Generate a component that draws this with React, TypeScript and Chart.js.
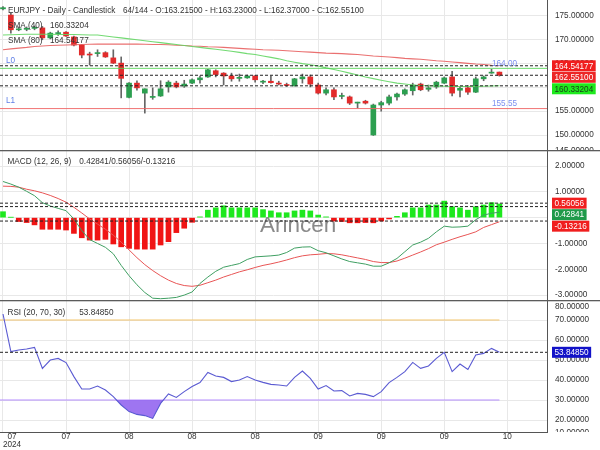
import React, { useEffect, useRef } from 'react';
import { Chart, registerables } from 'chart.js';

Chart.register(...registerables);

// ---------------- data ----------------
const xTickIndex = [0, 8, 16, 24, 32, 40, 48, 56, 64];
const xTickLabels = ['07', '07', '08', '08', '08', '09', '09', '09', '10'];
const yearLabel = '2024';
const totalBars = 144;

const open = [176.5, 175.2, 172.1, 172.2, 172.4, 172.5, 170.4, 171.3, 171.6, 170.6, 168.9, 166.9, 167.1, 167.3, 166.2, 165.1, 157.9, 160.9, 158.8, 157.9, 158.2, 160.1, 160.9, 160.3, 160.9, 161.6, 162.2, 163.5, 163.0, 162.4, 161.9, 162.0, 162.4, 161.1, 161.3, 160.9, 160.6, 160.3, 161.8, 162.2, 160.5, 158.8, 159.5, 158.1, 158.0, 156.7, 157.1, 150.0, 156.3, 156.7, 158.0, 158.6, 159.3, 160.7, 159.6, 160.1, 160.9, 162.2, 159.4, 159.9, 159.0, 161.8, 163.0, 163.215];
const high = [177.0, 175.6, 172.7, 172.7, 172.9, 172.8, 171.6, 171.9, 171.7, 170.8, 169.0, 167.4, 167.9, 167.5, 167.9, 166.4, 161.0, 161.4, 159.7, 159.9, 161.4, 161.4, 161.3, 161.5, 161.8, 162.4, 163.8, 163.7, 163.1, 163.0, 162.8, 162.6, 162.5, 161.5, 162.4, 161.3, 160.9, 161.9, 162.8, 162.6, 160.9, 159.9, 159.9, 158.8, 158.2, 156.9, 157.3, 156.5, 157.1, 158.4, 158.8, 159.7, 160.9, 160.9, 160.5, 161.3, 162.2, 163.4, 160.1, 160.4, 162.2, 162.4, 163.8, 163.23];
const low = [176.3, 171.4, 171.9, 171.9, 172.1, 170.0, 170.2, 170.9, 170.7, 168.7, 166.2, 164.7, 166.5, 166.3, 165.0, 157.8, 157.8, 159.4, 154.6, 157.5, 158.1, 159.0, 159.9, 160.0, 160.8, 160.9, 162.1, 162.2, 160.5, 161.3, 161.3, 161.9, 161.1, 160.8, 160.9, 160.5, 160.2, 160.3, 160.9, 160.1, 158.6, 158.4, 157.4, 157.6, 156.4, 155.7, 156.5, 149.9, 155.0, 156.3, 157.3, 158.3, 158.4, 159.3, 159.2, 159.8, 160.8, 158.2, 158.0, 158.5, 158.9, 161.4, 162.96, 162.37];
const close = [176.75, 172.1, 172.2, 172.3, 172.6, 170.4, 171.4, 171.45, 170.8, 168.9, 166.8, 166.8, 167.3, 166.4, 165.1, 161.9, 160.9, 159.9, 159.7, 158.1, 159.7, 161.1, 160.1, 160.7, 161.6, 162.0, 163.7, 162.7, 162.4, 161.8, 162.1, 162.4, 161.6, 161.2, 161.0, 160.7, 160.4, 161.8, 162.2, 160.7, 158.8, 159.5, 158.0, 158.3, 156.7, 156.9, 156.7, 156.3, 156.8, 158.0, 158.6, 159.5, 160.5, 159.5, 159.9, 161.1, 162.0, 158.8, 159.8, 159.0, 161.8, 162.2, 163.1, 162.551];

const sma40 = [171.0, 171.05, 171.1, 171.15, 171.15, 171.15, 171.15, 171.1, 171.1, 171.1, 171.05, 171.0, 171.0, 170.8, 170.6, 170.4, 170.2, 170.0, 169.8, 169.6, 169.4, 169.2, 169.0, 168.8, 168.6, 168.4, 168.2, 168.0, 167.8, 167.6, 167.35, 167.1, 166.9, 166.6, 166.3, 166.0, 165.6, 165.3, 165.0, 164.75, 164.5, 164.1, 163.75, 163.4, 163.0, 162.6, 162.2, 161.85, 161.5, 161.2, 160.9, 160.7, 160.5, 160.4, 160.35, 160.3, 160.25, 160.2, 160.2, 160.2, 160.2, 160.25, 160.3, 160.33204];
const sma80 = [167.9, 168.1, 168.25, 168.4, 168.6, 168.7, 168.8, 168.85, 168.9, 168.95, 169.0, 169.05, 169.1, 169.1, 169.1, 169.1, 169.1, 169.1, 169.05, 169.0, 169.0, 168.95, 168.85, 168.8, 168.7, 168.65, 168.55, 168.5, 168.4, 168.3, 168.2, 168.1, 168.0, 167.9, 167.85, 167.8, 167.7, 167.6, 167.5, 167.4, 167.3, 167.2, 167.15, 167.1, 167.0, 166.9, 166.75, 166.6, 166.5, 166.4, 166.25, 166.1, 166.0, 165.9, 165.75, 165.6, 165.5, 165.35, 165.2, 165.05, 164.9, 164.8, 164.65, 164.54177];

const macdLine = [1.40, 1.30, 1.18, 1.02, 0.85, 0.58, 0.45, 0.36, 0.27, -0.05, -0.50, -0.85, -1.00, -1.15, -1.40, -1.85, -2.25, -2.60, -2.90, -3.12, -3.14, -3.12, -3.09, -3.00, -2.88, -2.55, -2.30, -2.08, -1.92, -1.85, -1.78, -1.62, -1.52, -1.50, -1.48, -1.45, -1.35, -1.18, -1.14, -1.13, -1.28, -1.36, -1.48, -1.60, -1.70, -1.75, -1.80, -1.88, -1.88, -1.75, -1.58, -1.32, -1.06, -0.95, -0.80, -0.55, -0.33, -0.37, -0.36, -0.33, -0.08, 0.10, 0.17, 0.21];
const signalLine = [1.22, 1.21, 1.18, 1.10, 1.04, 0.96, 0.86, 0.74, 0.60, 0.40, 0.18, -0.05, -0.25, -0.45, -0.68, -0.95, -1.25, -1.55, -1.82, -2.05, -2.25, -2.42, -2.55, -2.63, -2.66, -2.62, -2.52, -2.42, -2.30, -2.20, -2.10, -2.02, -1.93, -1.85, -1.79, -1.72, -1.64, -1.55, -1.48, -1.44, -1.42, -1.39, -1.40, -1.44, -1.50, -1.56, -1.62, -1.70, -1.74, -1.74, -1.68, -1.57, -1.45, -1.33, -1.20, -1.05, -0.95, -0.84, -0.74, -0.65, -0.55, -0.38, -0.27, -0.16];
const histogram = [0.23, 0.01, -0.15, -0.19, -0.28, -0.45, -0.45, -0.45, -0.48, -0.61, -0.78, -0.87, -0.87, -0.84, -1.02, -1.13, -1.19, -1.22, -1.22, -1.22, -1.06, -0.93, -0.58, -0.41, -0.18, 0.03, 0.29, 0.38, 0.46, 0.38, 0.38, 0.38, 0.38, 0.31, 0.26, 0.19, 0.19, 0.26, 0.29, 0.26, 0.10, 0.03, -0.13, -0.15, -0.20, -0.20, -0.19, -0.20, -0.13, -0.05, 0.05, 0.19, 0.38, 0.38, 0.49, 0.49, 0.64, 0.42, 0.38, 0.29, 0.42, 0.49, 0.58, 0.53];

const rsi = [73.0, 54.2, 55.0, 55.5, 56.3, 45.8, 50.0, 50.8, 48.7, 41.7, 35.5, 35.5, 37.0, 35.0, 31.7, 27.5, 24.2, 22.8, 22.2, 20.8, 28.3, 33.0, 31.3, 34.2, 36.7, 38.7, 43.8, 42.0, 41.3, 39.2, 40.0, 41.7, 40.0, 38.8, 37.8, 37.5, 37.0, 41.3, 44.5, 40.8, 35.5, 37.2, 34.5, 34.7, 32.0, 33.3, 32.8, 31.7, 34.2, 38.7, 41.3, 44.2, 48.8, 45.8, 47.0, 50.8, 53.8, 44.2, 48.0, 45.3, 52.5, 53.3, 55.8, 53.8485];

const priceTickLabels = [175, 170, 165, 160, 155, 150, 145];
const macdTickLabels = [2, 1, 0, -1, -2, -3];
const rsiTickLabels = [80, 70, 60, 50, 40, 30, 20, 10];
const priceGrid = [175, 170, 165, 160, 155, 150];
const macdGrid = [2, 1, 0, -1, -2, -3];
const rsiGrid = [70, 60, 50, 40, 30, 20];

const levelL0 = 164.0;
const levelL1 = 155.55;
const rsiHigh = 70;
const rsiLow = 30;
const macdNow = 0.42841;
const signalNow = 0.56056;
const histNow = -0.13216;

// ---------------- ranges / styles ----------------
const X_MIN = -0.38;
const X_MAX = 69.04;
const PRICE_MIN = 146.85;
const PRICE_MAX = 178.36;
const MACD_MIN = -3.19;
const MACD_MAX = 2.62;
const RSI_MIN = 14;
const RSI_MAX = 79.5;

const FONT = '8.2px "Liberation Sans", Arial, sans-serif';
const TEXT = '#333333';
const GRID = '#e8e8e8';
const AXIS = '#555555';
const UP = '#2c9f50';
const DOWN = '#e22b2b';
const WICK = '#666666';

type Box = { value: number; label: string; bg: string; fg: string };
type Txt = { text: string; x: number; y: number; color?: string; font?: string };
type Opts = { id: string; ticks: number[]; boxes: Box[]; texts: Txt[]; separator?: boolean; watermark?: string; xAxis?: boolean };

function panelPlugin(o: Opts) {
  return {
    id: o.id,
    beforeDatasetsDraw(chart: any) {
      if (!o.watermark) return;
      const ctx = chart.ctx;
      ctx.save();
      ctx.font = '22.5px "Liberation Sans", Arial, sans-serif';
      ctx.fillStyle = '#8a8a8a';
      ctx.textAlign = 'left';
      ctx.textBaseline = 'alphabetic';
      ctx.fillText(o.watermark, 260, 82);
      ctx.restore();
    },
    afterDraw(chart: any) {
      const ctx = chart.ctx;
      const { top, bottom, right } = chart.chartArea;
      const ys = chart.scales.y;
      // right axis tick labels (clamped and clipped to the panel)
      ctx.save();
      ctx.beginPath();
      ctx.rect(right + 1, top, chart.width - right - 1, bottom - top);
      ctx.clip();
      ctx.font = FONT;
      ctx.fillStyle = TEXT;
      ctx.textAlign = 'left';
      ctx.textBaseline = 'middle';
      for (const v of o.ticks) {
        const p = Math.max(top + 6, Math.min(bottom + 1, ys.getPixelForValue(v)));
        ctx.fillText(v.toFixed(5), right + 8, p);
      }
      ctx.restore();

      ctx.save();
      ctx.font = FONT;
      ctx.textAlign = 'left';
      ctx.textBaseline = 'middle';
      // value boxes
      let prev = -Infinity;
      [...o.boxes].sort((a, b) => b.value - a.value).forEach((b) => {
        const p = Math.max(ys.getPixelForValue(b.value), prev + 11.5);
        prev = p;
        const w = ctx.measureText(b.label).width + 5;
        ctx.fillStyle = b.bg;
        ctx.fillRect(right + 5, p - 5.5, w, 11);
        ctx.fillStyle = b.fg;
        ctx.fillText(b.label, right + 7.5, p + 0.5);
      });
      // texts
      for (const t of o.texts) {
        ctx.font = t.font || FONT;
        ctx.fillStyle = t.color || TEXT;
        ctx.fillText(t.text, t.x, t.y);
      }
      if (o.separator) {
        ctx.fillStyle = '#5c5c5c';
        ctx.fillRect(0, 0, chart.width, 1.3);
      }
      if (o.xAxis) {
        const xs = chart.scales.x;
        ctx.font = FONT;
        ctx.fillStyle = TEXT;
        ctx.textAlign = 'center';
        xTickIndex.forEach((v, k) => {
          const px = xs.getPixelForValue(v);
          const cx = k === 0 ? px + 9 : px;
          ctx.fillText(xTickLabels[k], cx, bottom + 5);
          if (k === 0) ctx.fillText(yearLabel, cx, bottom + 13);
        });
      }
      ctx.restore();
    },
  };
}

function xScale(border: boolean) {
  return {
    type: 'linear',
    min: X_MIN,
    max: X_MAX,
    offset: false,
    afterBuildTicks: (s: any) => {
      s.ticks = xTickIndex.map((v) => ({ value: v }));
    },
    ticks: { display: false },
    grid: { color: GRID, drawTicks: false, offset: false },
    border: { display: border, color: AXIS },
  };
}

function yScale(min: number, max: number, grid: number[]) {
  return {
    type: 'linear',
    position: 'right',
    min,
    max,
    afterBuildTicks: (s: any) => {
      s.ticks = grid.map((v) => ({ value: v }));
    },
    ticks: { display: false },
    grid: { color: GRID, drawTicks: false },
    border: { display: true, color: AXIS },
  };
}

function hline(v: number, color: string, dash: number[] = [], x0 = X_MIN, x1 = X_MAX, order = 0) {
  return {
    type: 'line',
    data: [{ x: x0, y: v }, { x: x1, y: v }],
    borderColor: color,
    borderWidth: 1,
    borderDash: dash,
    pointRadius: 0,
    fill: false,
    order,
  };
}

function series(values: number[], color: string, width = 1.1, order = 1) {
  return {
    type: 'line',
    data: values.map((y, i) => ({ x: i, y })),
    borderColor: color,
    borderWidth: width,
    pointRadius: 0,
    tension: 0,
    fill: false,
    order,
  };
}

const baseOptions = (padding: any) => ({
  responsive: false,
  maintainAspectRatio: false,
  animation: false,
  devicePixelRatio: 1,
  events: [],
  layout: { padding },
  plugins: { legend: { display: false }, tooltip: { enabled: false } },
});

export default function App() {
  const r1 = useRef<HTMLCanvasElement>(null);
  const r2 = useRef<HTMLCanvasElement>(null);
  const r3 = useRef<HTMLCanvasElement>(null);

  useEffect(() => {
    const n = close.length;
    const last = n - 1;
    const charts: Chart[] = [];

    // ---------- price panel ----------
    const c1: any = {
      type: 'bar',
      data: {
        datasets: [
          {
            type: 'bar',
            data: open.map((_, i) => ({ x: i, y: [low[i], high[i]] })),
            backgroundColor: WICK,
            barThickness: 1,
            grouped: false,
            order: 6,
          },
          {
            type: 'bar',
            data: open.map((o, i) => ({ x: i, y: [o, close[i]] })),
            backgroundColor: open.map((o, i) => (close[i] >= o ? UP : DOWN)),
            barThickness: 5,
            minBarLength: 1,
            grouped: false,
            order: 5,
          },
          series(sma40, 'rgba(100,214,100,0.9)', 1.1, 3),
          series(sma80, 'rgba(232,96,96,0.9)', 1.1, 3),
          hline(levelL0, 'rgba(80,210,80,0.85)', [], X_MIN, X_MAX, 2),
          hline(levelL1, 'rgba(238,100,100,0.9)', [], X_MIN, X_MAX, 2),
          hline(sma80[last], '#222', [3, 2]),
          hline(close[last], '#222', [3, 2]),
          hline(sma40[last], '#222', [3, 2]),
        ],
      },
      options: {
        ...baseOptions({ left: 0, right: 53, top: 0, bottom: 0 }),
        scales: { x: xScale(false), y: yScale(PRICE_MIN, PRICE_MAX, priceGrid) },
      },
      plugins: [
        panelPlugin({
          id: 'p1',
          ticks: priceTickLabels,
          boxes: [
            { value: sma80[last], label: sma80[last].toFixed(5), bg: '#f01e1e', fg: '#ffffff' },
            { value: close[last], label: close[last].toFixed(5), bg: '#ec2626', fg: '#ffffff' },
            { value: sma40[last], label: sma40[last].toFixed(5), bg: '#1eea1e', fg: '#1a3a1a' },
          ],
          texts: [
            { text: 'EURJPY - Daily - Candlestick', x: 8, y: 10.5 },
            {
              text: `${n}/${totalBars} - O:${open[last].toFixed(5)} - H:${high[last].toFixed(5)} - L:${low[last].toFixed(5)} - C:${close[last].toFixed(5)}`,
              x: 123,
              y: 10.5,
            },
            { text: 'SMA (40)', x: 8, y: 26 },
            { text: sma40[last].toFixed(5), x: 50, y: 26 },
            { text: 'SMA (80)', x: 8, y: 41 },
            { text: sma80[last].toFixed(5), x: 50, y: 41 },
            { text: 'L0', x: 6, y: 61, color: '#5f7fe6' },
            { text: 'L1', x: 6, y: 101, color: '#5f7fe6' },
            { text: levelL0.toFixed(2), x: 492, y: 63.7, color: '#7b8ff0' },
            { text: levelL1.toFixed(2), x: 492, y: 103.7, color: '#7b8ff0' },
          ],
        }),
      ],
    };

    // ---------- MACD panel ----------
    const c2: any = {
      type: 'bar',
      data: {
        datasets: [
          {
            type: 'bar',
            data: histogram.map((v, i) => ({ x: i, y: v })),
            backgroundColor: histogram.map((v) => (v >= 0 ? '#1ee81e' : '#f01414')),
            barThickness: 5,
            grouped: false,
            order: 5,
          },
          series(macdLine, '#3f9f62', 1, 3),
          series(signalLine, '#e85555', 1, 3),
          hline(signalNow, '#222', [3, 2]),
          hline(macdNow, '#222', [3, 2]),
          hline(histNow, '#222', [3, 2]),
        ],
      },
      options: {
        ...baseOptions({ left: 0, right: 53, top: 0, bottom: 0 }),
        scales: { x: xScale(false), y: yScale(MACD_MIN, MACD_MAX, macdGrid) },
      },
      plugins: [
        panelPlugin({
          id: 'p2',
          ticks: macdTickLabels,
          separator: true,
          watermark: 'Arincen',
          boxes: [
            { value: signalNow, label: signalNow.toFixed(5), bg: '#f01e1e', fg: '#ffffff' },
            { value: macdNow, label: macdNow.toFixed(5), bg: '#1f9a4a', fg: '#ffffff' },
            { value: histNow, label: histNow.toFixed(5), bg: '#f01e1e', fg: '#ffffff' },
          ],
          texts: [
            { text: 'MACD (12, 26, 9)', x: 7.5, y: 11.7 },
            { text: `${macdNow.toFixed(5)}/${signalNow.toFixed(5)}/${histNow.toFixed(5)}`, x: 79.3, y: 11.7 },
          ],
        }),
      ],
    };

    // ---------- RSI panel ----------
    const c3: any = {
      type: 'line',
      data: {
        datasets: [
          {
            ...series(rsi, '#5a5ad2', 1.1, 1),
            fill: { target: { value: rsiLow }, above: 'rgba(0,0,0,0)', below: 'rgba(150,105,240,0.92)' },
          },
          hline(rsiHigh, '#f3c46a', [], X_MIN, last, 3),
          hline(rsiLow, '#b48cff', [], X_MIN, last, 3),
          hline(rsi[last], '#222', [3, 2], X_MIN, X_MAX, 0),
        ],
      },
      options: {
        ...baseOptions({ left: 0, right: 53, top: 1, bottom: 18 }),
        scales: { x: xScale(true), y: yScale(RSI_MIN, RSI_MAX, rsiGrid) },
      },
      plugins: [
        panelPlugin({
          id: 'p3',
          ticks: rsiTickLabels,
          separator: true,
          xAxis: true,
          boxes: [{ value: rsi[last], label: rsi[last].toFixed(5), bg: '#1212c8', fg: '#ffffff' }],
          texts: [
            { text: 'RSI (20, 70, 30)', x: 7.5, y: 12.7 },
            { text: rsi[last].toFixed(5), x: 79.3, y: 12.7 },
          ],
        }),
      ],
    };

    if (r1.current) charts.push(new Chart(r1.current, c1));
    if (r2.current) charts.push(new Chart(r2.current, c2));
    if (r3.current) charts.push(new Chart(r3.current, c3));
    return () => charts.forEach((c) => c.destroy());
  }, []);

  return (
    <div style={{ position: 'absolute', left: 0, top: 0, width: 600, height: 450, background: '#ffffff' }}>
      <canvas ref={r1} width={600} height={150} style={{ position: 'absolute', left: 0, top: 0 }} />
      <canvas ref={r2} width={600} height={150} style={{ position: 'absolute', left: 0, top: 150 }} />
      <canvas ref={r3} width={600} height={150} style={{ position: 'absolute', left: 0, top: 300 }} />
    </div>
  );
}
